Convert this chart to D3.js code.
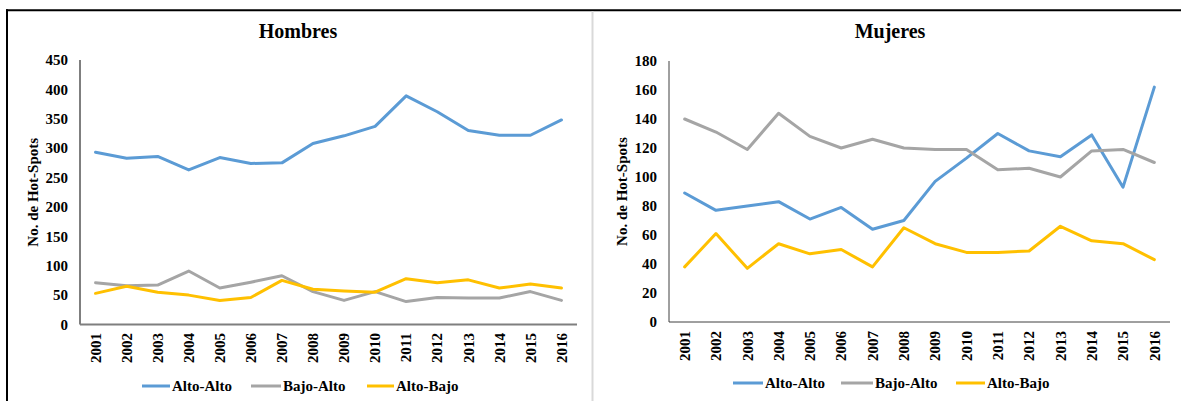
<!DOCTYPE html>
<html><head><meta charset="utf-8">
<script src="https://cdn.jsdelivr.net/npm/d3@7"></script>
<style>
html,body{margin:0;padding:0;background:#fff;}
svg{display:block;}
text{font-family:"Liberation Serif","Times New Roman",serif;font-weight:bold;fill:#000;}
</style></head><body>
<svg id="c" width="1181" height="401"></svg>
<script>
const years = ["2001","2002","2003","2004","2005","2006","2007","2008","2009","2010","2011","2012","2013","2014","2015","2016"];
const seriesNames = ["Alto-Alto","Bajo-Alto","Alto-Bajo"];
const seriesColors = ["#5B9BD5","#A5A5A5","#FFC000"];

const hombresAltoAlto = [293,283,286,263,284,274,275,308,321,337,389,362,330,322,322,348];
const hombresBajoAlto = [71,66,67,91,62,72,83,56,41,56,39,46,45,45,56,41];
const hombresAltoBajo = [53,65,55,50,41,46,75,60,57,55,78,71,76,62,69,62];
const hombresTicks = [0,50,100,150,200,250,300,350,400,450];

const mujeresAltoAlto = [89,77,80,83,71,79,64,70,97,113,130,118,114,129,93,162];
const mujeresBajoAlto = [140,131,119,144,128,120,126,120,119,119,105,106,100,118,119,110];
const mujeresAltoBajo = [38,61,37,54,47,50,38,65,54,48,48,49,66,56,54,43];
const mujeresTicks = [0,20,40,60,80,100,120,140,160,180];

const svg = d3.select("#c");

// frame
svg.append("line").attr("x1",6).attr("x2",1181).attr("y1",10.3).attr("y2",10.3).attr("stroke","#000").attr("stroke-width",2);
svg.append("line").attr("x1",7).attr("x2",7).attr("y1",9.3).attr("y2",401).attr("stroke","#000").attr("stroke-width",2);
svg.append("line").attr("x1",592.5).attr("x2",592.5).attr("y1",11.3).attr("y2",401).attr("stroke","#D9D9D9").attr("stroke-width",2);

const panels = [
  {title:"Hombres", titleX:298, titleY:38, data:[hombresAltoAlto,hombresBajoAlto,hombresAltoBajo], ticks:hombresTicks,
   x0:80, x1:577, yTop:60, yBot:324.5, axisColor:"#7F7F7F", axisW:2, yTitleX:33, labX:68, yearTop:333,
   legendY:386, legend:[{lx:142,tx:172},{lx:251,tx:283},{lx:367,tx:396}]},
  {title:"Mujeres", titleX:890, titleY:38, data:[mujeresAltoAlto,mujeresBajoAlto,mujeresAltoBajo], ticks:mujeresTicks,
   x0:669, x1:1170, yTop:61, yBot:322, axisColor:"#404040", axisW:1, yTitleX:622, labX:657, yearTop:331,
   legendY:383, legend:[{lx:733,tx:765},{lx:841,tx:875},{lx:956,tx:987}]}
];

panels.forEach(p => {
  const g = svg.append("g");
  const x = d3.scaleBand().domain(years).range([p.x0,p.x1]);
  const y = d3.scaleLinear().domain([0,d3.max(p.ticks)]).range([p.yBot,p.yTop]);

  g.append("text").attr("x",p.titleX).attr("y",p.titleY).attr("text-anchor","middle")
    .style("font-size","20px").text(p.title);

  // y tick labels
  g.selectAll(".yl").data(p.ticks).join("text").attr("class","yl")
    .attr("x",p.labX).attr("y",d=>y(d)).attr("dy","0.35em").attr("text-anchor","end")
    .style("font-size","15px").text(d=>d);

  // y title
  g.append("text").attr("transform",`translate(${p.yTitleX},${(p.yTop+p.yBot)/2}) rotate(-90)`)
    .attr("text-anchor","middle").attr("dy","0.35em").style("font-size","15px").text("No. de Hot-Spots");

  // axes
  g.append("line").attr("x1",p.x0).attr("x2",p.x0).attr("y1",p.yTop).attr("y2",p.yBot)
    .attr("stroke",p.axisColor).attr("stroke-width",p.axisW);
  g.append("line").attr("x1",p.x0).attr("x2",p.x1).attr("y1",p.yBot).attr("y2",p.yBot)
    .attr("stroke",p.axisColor).attr("stroke-width",p.axisW);

  // year labels
  g.selectAll(".xl").data(years).join("text").attr("class","xl")
    .attr("transform",d=>`translate(${x(d)+x.bandwidth()/2},${p.yearTop}) rotate(-90)`)
    .attr("text-anchor","end").attr("dy","0.35em").style("font-size","15px").text(d=>d);

  // lines
  const line = d3.line().x((d,i)=>x(years[i])+x.bandwidth()/2).y(d=>y(d));
  p.data.forEach((s,k)=>{
    g.append("path").datum(s).attr("d",line).attr("fill","none")
      .attr("stroke",seriesColors[k]).attr("stroke-width",3)
      .attr("stroke-linejoin","round").attr("stroke-linecap","round");
  });

  // legend
  p.legend.forEach((l,k)=>{
    g.append("line").attr("x1",l.lx).attr("x2",l.tx-2).attr("y1",p.legendY).attr("y2",p.legendY)
      .attr("stroke",seriesColors[k]).attr("stroke-width",3);
    g.append("text").attr("x",l.tx).attr("y",p.legendY).attr("dy","0.35em")
      .style("font-size","15px").text(seriesNames[k]);
  });
});
</script>
</body></html>
